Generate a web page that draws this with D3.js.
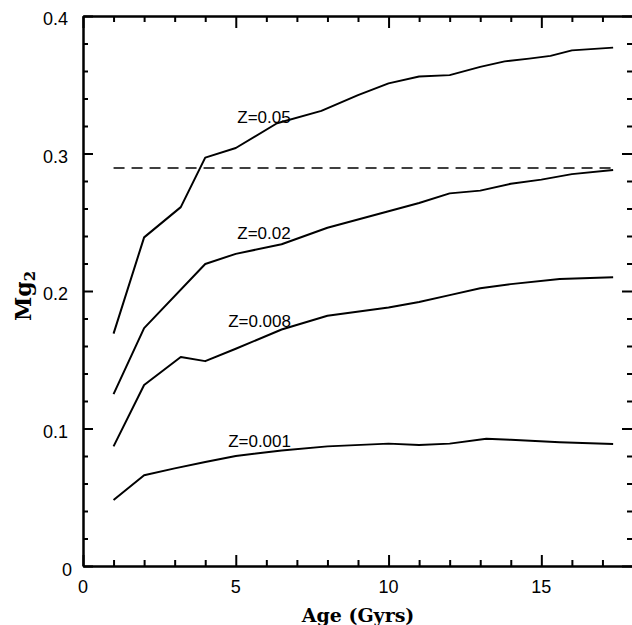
<!DOCTYPE html>
<html>
<head>
<meta charset="utf-8">
<script src="https://cdn.jsdelivr.net/npm/d3@7"></script>
<style>
  html, body { margin: 0; padding: 0; background: #fff; }
  svg { display: block; }
</style>
</head>
<body>
<script>
// ---- data ----
const xDomain = [0, 18];
const yDomain = [0, 0.4];
const xMajorTicks = [0, 5, 10, 15];
const yMajorTicks = [0, 0.1, 0.2, 0.3, 0.4];
const yTickLabels = ["0", "0.1", "0.2", "0.3", "0.4"];
const xTickLabels = ["0", "5", "10", "15"];

const ageZ05 = [1, 2, 3.2, 4, 5, 6.35, 7.8, 9, 10, 11, 12, 13, 13.8, 14.6, 15.3, 16, 17.35];
const mgZ05  = [0.169, 0.239, 0.261, 0.297, 0.304, 0.322, 0.331, 0.3425, 0.351, 0.356, 0.357, 0.363, 0.367, 0.369, 0.371, 0.375, 0.377];

const ageZ02 = [1, 2, 4, 5, 6.5, 8, 10, 11, 12, 13, 14, 15, 16, 17.35];
const mgZ02  = [0.125, 0.173, 0.2196, 0.227, 0.234, 0.246, 0.258, 0.264, 0.271, 0.273, 0.278, 0.281, 0.285, 0.288];

const ageZ008 = [1, 2, 3.2, 4, 5, 6.5, 8, 10, 11, 12, 13, 14, 15.6, 17.35];
const mgZ008  = [0.087, 0.1316, 0.152, 0.149, 0.158, 0.172, 0.182, 0.188, 0.192, 0.197, 0.202, 0.205, 0.2087, 0.210];

const ageZ001 = [1, 2, 3, 4, 5, 6.5, 8, 10, 11, 12, 13.2, 14, 15.6, 17.35];
const mgZ001  = [0.048, 0.066, 0.071, 0.0756, 0.080, 0.084, 0.087, 0.089, 0.088, 0.089, 0.0925, 0.0918, 0.090, 0.0887];

const seriesNames = ["Z=0.05", "Z=0.02", "Z=0.008", "Z=0.001"];
const labelAge = [5.05, 5.05, 4.75, 4.75];
const labelMg  = [0.322, 0.238, 0.174, 0.0865];

const refAge = [1, 17.3];
const refMg = [0.2895, 0.2895];

// ---- layout ----
const W = 632, H = 625;
const x0 = 83, x1 = 633, yTop = 16, yBot = 566;

const svg = d3.select("body").append("svg").attr("width", W).attr("height", H);

const x = d3.scaleLinear().domain(xDomain).range([x0, x1]);
const y = d3.scaleLinear().domain(yDomain).range([yBot, yTop]);

const xMinor = d3.range(0, 19, 1).filter(v => !xMajorTicks.includes(v));
const yMinor = d3.range(0, 21, 1).map(i => +(i * 0.02).toFixed(2)).filter(v => !yMajorTicks.some(m => Math.abs(m - v) < 1e-9));

const axisStyle = g => {
  g.select(".domain").attr("stroke", "#000").attr("stroke-width", 2);
  g.selectAll(".tick line").attr("stroke", "#000").attr("stroke-width", 2);
  g.selectAll(".tick text").remove();
};
const noDomain = g => g.select(".domain").attr("stroke", "none");

// bottom axis (ticks inward = upward)
svg.append("g").attr("transform", `translate(0,${yBot})`)
  .call(d3.axisTop(x).tickValues(xMajorTicks).tickSize(11).tickSizeOuter(0)).call(axisStyle);
svg.append("g").attr("transform", `translate(0,${yBot})`)
  .call(d3.axisTop(x).tickValues(xMinor).tickSize(6).tickSizeOuter(0)).call(axisStyle);
// top axis (ticks downward)
svg.append("g").attr("transform", `translate(0,${yTop})`)
  .call(d3.axisBottom(x).tickValues(xMajorTicks).tickSize(12).tickSizeOuter(0)).call(axisStyle);
svg.append("g").attr("transform", `translate(0,${yTop})`)
  .call(d3.axisBottom(x).tickValues(xMinor).tickSize(6).tickSizeOuter(0)).call(axisStyle);
// left axis (ticks to the right)
svg.append("g").attr("transform", `translate(${x0},0)`)
  .call(d3.axisRight(y).tickValues(yMajorTicks).tickSize(10).tickSizeOuter(0)).call(axisStyle);
svg.append("g").attr("transform", `translate(${x0},0)`)
  .call(d3.axisRight(y).tickValues(yMinor).tickSize(5).tickSizeOuter(0)).call(axisStyle);
// right axis (ticks to the left; its line lies just outside the frame)
svg.append("g").attr("transform", `translate(${x1},0)`)
  .call(d3.axisLeft(y).tickValues(yMajorTicks).tickSize(11).tickSizeOuter(0)).call(axisStyle).call(noDomain);
svg.append("g").attr("transform", `translate(${x1},0)`)
  .call(d3.axisLeft(y).tickValues(yMinor).tickSize(6).tickSizeOuter(0)).call(axisStyle).call(noDomain);

// tick labels
svg.append("g").selectAll("text").data(yMajorTicks).join("text")
  .attr("x", (d, i) => d === 0 ? 72 : 68)
  .attr("y", d => y(d) + (d === 0 ? 10 : 9))
  .attr("text-anchor", "end")
  .attr("font-family", "Liberation Sans, Arial, sans-serif")
  .attr("font-size", 18)
  .text((d, i) => yTickLabels[i]);

svg.append("g").selectAll("text").data(xMajorTicks).join("text")
  .attr("x", d => x(d))
  .attr("y", 593)
  .attr("text-anchor", "middle")
  .attr("font-family", "Liberation Sans, Arial, sans-serif")
  .attr("font-size", 18)
  .text((d, i) => xTickLabels[i]);

// axis titles
svg.append("text")
  .attr("x", 358).attr("y", 622)
  .attr("text-anchor", "middle")
  .attr("font-family", "DejaVu Serif, serif")
  .attr("font-weight", "bold")
  .attr("font-size", 19)
  .text("Age (Gyrs)");

const yt = svg.append("text")
  .attr("transform", "translate(31,296) rotate(-90)")
  .attr("text-anchor", "middle")
  .attr("font-family", "DejaVu Serif, serif")
  .attr("font-weight", "bold")
  .attr("font-size", 22);
yt.append("tspan").text("Mg");
yt.append("tspan").attr("font-size", 15).attr("dy", 4).text("2");

// reference dashed line
svg.append("path")
  .datum(refAge.map((a, i) => [a, refMg[i]]))
  .attr("d", d3.line().x(d => x(d[0])).y(d => y(d[1])))
  .attr("fill", "none").attr("stroke", "#000").attr("stroke-width", 1.6)
  .attr("stroke-dasharray", "11,7");

// curves
const series = [
  [ageZ05, mgZ05], [ageZ02, mgZ02], [ageZ008, mgZ008], [ageZ001, mgZ001]
];
const line = d3.line().x(d => x(d[0])).y(d => y(d[1]));
svg.append("g").selectAll("path").data(series).join("path")
  .attr("d", s => line(s[0].map((a, i) => [a, s[1][i]])))
  .attr("fill", "none").attr("stroke", "#000").attr("stroke-width", 2)
  .attr("stroke-linejoin", "round");

// curve labels
svg.append("g").selectAll("text").data(seriesNames).join("text")
  .attr("x", (d, i) => x(labelAge[i]))
  .attr("y", (d, i) => y(labelMg[i]))
  .attr("font-family", "Liberation Sans, Arial, sans-serif")
  .attr("font-size", 17)
  .text(d => d);
</script>
</body>
</html>
